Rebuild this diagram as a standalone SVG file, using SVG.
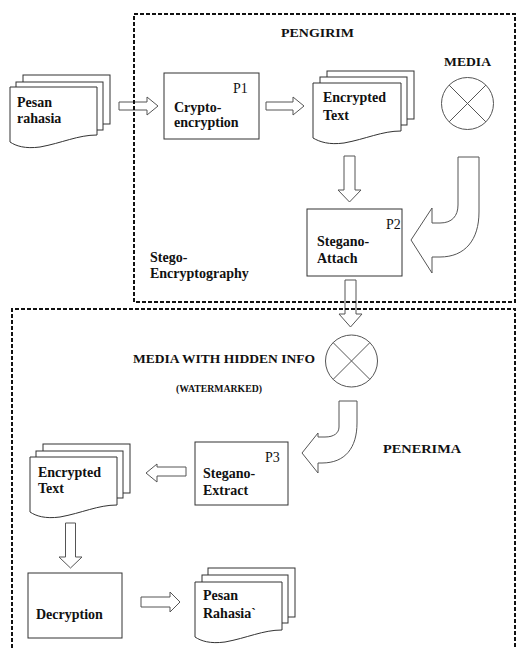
<svg xmlns="http://www.w3.org/2000/svg" width="517" height="648" viewBox="0 0 517 648">
<style>
text{font-family:"Liberation Serif","Times New Roman",serif;fill:#111}
.b{font-weight:bold;font-size:14px}
.p{font-size:14px}
.h{font-weight:bold;font-size:13.5px}
.box{fill:#fff;stroke:#333;stroke-width:1}
.pg{fill:#fff;stroke:#333;stroke-width:1}
.arr{fill:#fff;stroke:#555;stroke-width:1}
.frame{fill:none;stroke:#111;stroke-width:2;stroke-dasharray:4 2}
.circ{fill:#fff;stroke:#555;stroke-width:1}
</style>
<rect width="517" height="648" fill="#fff"/>

<g id="connectors">
  <polygon class="arr" points="119,102 147,102 147,97 158,106 147,115 147,110 119,110"/>
  <polygon class="arr" points="266,102 293,102 293,97 304,106 293,115 293,110 266,110"/>
  <polygon class="arr" points="344,156 355,156 355,190 361,190 349.5,202 338,190 344,190"/>
  <path class="arr" d="M458,157 H479 V212 C479,240 465,257 440,257 H432 V273 L411,240 L432,208 V223 H440 C452,223 458,216 458,205 Z"/>
  <polygon class="arr" points="345,280 356,280 356,314 362,314 350.5,327 339,314 345,314"/>
  <path class="arr" d="M339,401 H357 V423 C357,448 345,463 322,463 H318 V473 L302,453 L318,433 V437 H325 C334,437 339,433 339,427 Z"/>
  <polygon class="arr" points="186,467 157,467 157,464 146,473 157,482 157,476 186,476"/>
  <polygon class="arr" points="65.5,523 75.5,523 75.5,557 82,557 70.5,568 59,557 65.5,557"/>
  <polygon class="arr" points="141,597 170,597 170,592 180,602 170,612 170,607 141,607"/>
</g>

<g id="frame-pengirim">
  <rect class="frame" x="134" y="14" width="381" height="288"/>
  <text class="h" x="281" y="37" textLength="73" lengthAdjust="spacingAndGlyphs">PENGIRIM</text>
  <text class="b" x="150" y="262">Stego-</text>
  <text class="b" x="150" y="278">Encryptography</text>
</g>

<g id="frame-penerima">
  <path class="frame" d="M12,660 V309 H515 V660"/>
  <text class="h" x="383" y="453" textLength="78" lengthAdjust="spacingAndGlyphs">PENERIMA</text>
</g>

<g id="pesan-rahasia">
  <rect class="pg" x="23" y="75" width="87" height="49"/>
  <rect class="pg" x="16" y="82" width="87" height="48"/>
  <path class="pg" d="M10,87 H97 V135 C78,135 62,143 40,147 C25,149 16,146 10,142 Z"/>
  <text class="b" x="17" y="107">Pesan</text>
  <text class="b" x="17" y="123">rahasia</text>
</g>

<g id="p1-crypto">
  <rect class="box" x="164" y="73" width="95" height="66"/>
  <text class="p" x="233" y="93">P1</text>
  <text class="b" x="174" y="112">Crypto-</text>
  <text class="b" x="174" y="127">encryption</text>
</g>

<g id="encrypted-text-1">
  <rect class="pg" x="327" y="71" width="87" height="48"/>
  <rect class="pg" x="320" y="77" width="87" height="48"/>
  <path class="pg" d="M313,83 H401 V131 C382,131 366,139 344,143 C329,145 320,142 313,138 Z"/>
  <text class="b" x="323" y="102">Encrypted</text>
  <text class="b" x="323" y="120">Text</text>
</g>

<g id="media">
  <text class="h" x="444" y="66" textLength="47" lengthAdjust="spacingAndGlyphs">MEDIA</text>
  <circle class="circ" cx="467.5" cy="103.5" r="26"/>
  <path stroke="#555" stroke-width="1" d="M449.1,85.1 L485.9,121.9 M485.9,85.1 L449.1,121.9"/>
</g>

<g id="p2-stegano-attach">
  <rect class="box" x="307" y="209" width="95" height="67"/>
  <text class="p" x="386" y="229">P2</text>
  <text class="b" x="317" y="246">Stegano-</text>
  <text class="b" x="317" y="263">Attach</text>
</g>

<g id="media-hidden">
  <text class="h" x="133" y="363" textLength="182" lengthAdjust="spacingAndGlyphs">MEDIA WITH HIDDEN INFO</text>
  <text x="176" y="392" font-weight="bold" font-size="9.5" textLength="86" lengthAdjust="spacingAndGlyphs">(WATERMARKED)</text>
  <circle class="circ" cx="351.5" cy="361" r="26"/>
  <path stroke="#555" stroke-width="1" d="M333.1,342.6 L369.9,379.4 M369.9,342.6 L333.1,379.4"/>
</g>

<g id="p3-stegano-extract">
  <rect class="box" x="195" y="442" width="93" height="63"/>
  <text class="p" x="265" y="462">P3</text>
  <text class="b" x="203" y="478">Stegano-</text>
  <text class="b" x="203" y="495">Extract</text>
</g>

<g id="encrypted-text-2">
  <rect class="pg" x="43" y="444" width="87" height="49"/>
  <rect class="pg" x="36" y="451" width="87" height="47"/>
  <path class="pg" d="M30,457 H117 V505 C98,505 82,513 60,517 C45,519 36,516 30,512 Z"/>
  <text class="b" x="38" y="477">Encrypted</text>
  <text class="b" x="38" y="493">Text</text>
</g>

<g id="decryption">
  <rect class="box" x="28" y="573" width="94" height="65"/>
  <text class="b" x="36" y="619">Decryption</text>
</g>

<g id="pesan-rahasia-2">
  <rect class="pg" x="208" y="568" width="87" height="49"/>
  <rect class="pg" x="202" y="575" width="86" height="48"/>
  <path class="pg" d="M195,582 H282 V630 C263,630 247,638 225,642 C210,644 201,641 195,637 Z"/>
  <text class="b" x="203" y="600">Pesan</text>
  <text class="b" x="203" y="618">Rahasia`</text>
</g>
</svg>
